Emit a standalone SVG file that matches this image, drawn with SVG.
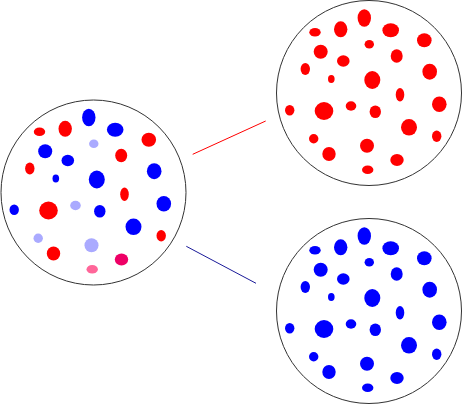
<svg xmlns="http://www.w3.org/2000/svg" width="463" height="405" viewBox="0 0 463 405">
<style>
.dish{fill:#fff;stroke:#333;stroke-width:1}
.r{fill:#ff0000}.b{fill:#0000ff}.lb{fill:#aaaaff}.m{fill:#ee0066}.p{fill:#ff6699}
</style>
<rect width="463" height="405" fill="#fff"/>
<g id="connectors">
<line x1="192.7" y1="154.3" x2="265.7" y2="121" stroke="#ff0000" stroke-width="1"/>
<line x1="186.3" y1="246.3" x2="256" y2="283.3" stroke="#1a1a99" stroke-width="1"/>
</g>
<g id="mixed" transform="translate(93.5,192.5)">
<circle class="dish" r="92.5"/>
<ellipse class="r" cx="-54" cy="-60.7" rx="5.7" ry="4.3"/>
<ellipse class="r" cx="-28.3" cy="-63.7" rx="6.7" ry="8"/>
<ellipse class="b" cx="-4.7" cy="-75" rx="6.7" ry="8.7"/>
<ellipse class="b" cx="21.7" cy="-62.7" rx="8.3" ry="7"/>
<ellipse class="r" cx="55.3" cy="-52.7" rx="7.3" ry="7"/>
<ellipse class="b" cx="-48.3" cy="-41.3" rx="7" ry="7"/>
<ellipse class="lb" cx="0.3" cy="-48.7" rx="4.7" ry="4.3"/>
<ellipse class="b" cx="-25.7" cy="-32" rx="6.3" ry="5.7"/>
<ellipse class="r" cx="27.7" cy="-37" rx="6" ry="6.7"/>
<ellipse class="r" cx="-63.7" cy="-24" rx="4.7" ry="6"/>
<ellipse class="b" cx="-37.7" cy="-14" rx="3.3" ry="4"/>
<ellipse class="b" cx="3.3" cy="-13" rx="8" ry="9"/>
<ellipse class="b" cx="60.7" cy="-21.3" rx="7.3" ry="8"/>
<ellipse class="r" cx="31" cy="1.7" rx="4.3" ry="6.7"/>
<ellipse class="b" cx="-79.3" cy="17.3" rx="4.7" ry="5.3"/>
<ellipse class="r" cx="-45" cy="18" rx="9.3" ry="9"/>
<ellipse class="lb" cx="-18" cy="13" rx="5.3" ry="4.7"/>
<ellipse class="b" cx="6.3" cy="18.7" rx="5.7" ry="6.3"/>
<ellipse class="b" cx="70.3" cy="11.3" rx="7.3" ry="7.7"/>
<ellipse class="b" cx="40" cy="34.3" rx="8" ry="8.3"/>
<ellipse class="lb" cx="-55.3" cy="45.7" rx="4.7" ry="4.7"/>
<ellipse class="r" cx="67.7" cy="43.3" rx="4.7" ry="5.7"/>
<ellipse class="r" cx="-40" cy="61" rx="6.7" ry="7"/>
<ellipse class="lb" cx="-2" cy="52.7" rx="7" ry="7"/>
<ellipse class="m" cx="28" cy="67" rx="6.7" ry="6"/>
<ellipse class="p" cx="-1.3" cy="76.7" rx="5.7" ry="4.3"/>
</g>
<g id="red" transform="translate(369,93)">
<circle class="dish" r="92.5"/>
<g class="r">
<ellipse cx="-54" cy="-60.7" rx="5.7" ry="4.3"/>
<ellipse cx="-28.3" cy="-63.7" rx="6.7" ry="8"/>
<ellipse cx="-4.7" cy="-75" rx="6.7" ry="8.7"/>
<ellipse cx="21.7" cy="-62.7" rx="8.3" ry="7"/>
<ellipse cx="55.3" cy="-52.7" rx="7.3" ry="7"/>
<ellipse cx="-48.3" cy="-41.3" rx="7" ry="7"/>
<ellipse cx="0.3" cy="-48.7" rx="4.7" ry="4.3"/>
<ellipse cx="-25.7" cy="-32" rx="6.3" ry="5.7"/>
<ellipse cx="27.7" cy="-37" rx="6" ry="6.7"/>
<ellipse cx="-63.7" cy="-24" rx="4.7" ry="6"/>
<ellipse cx="-37.7" cy="-14" rx="3.3" ry="4"/>
<ellipse cx="3.3" cy="-13" rx="8" ry="9"/>
<ellipse cx="60.7" cy="-21.3" rx="7.3" ry="8"/>
<ellipse cx="31" cy="1.7" rx="4.3" ry="6.7"/>
<ellipse cx="-79.3" cy="17.3" rx="4.7" ry="5.3"/>
<ellipse cx="-45" cy="18" rx="9.3" ry="9"/>
<ellipse cx="-18" cy="13" rx="5.3" ry="4.7"/>
<ellipse cx="6.3" cy="18.7" rx="5.7" ry="6.3"/>
<ellipse cx="70.3" cy="11.3" rx="7.3" ry="7.7"/>
<ellipse cx="40" cy="34.3" rx="8" ry="8.3"/>
<ellipse cx="-55.3" cy="45.7" rx="4.7" ry="4.7"/>
<ellipse cx="67.7" cy="43.3" rx="4.7" ry="5.7"/>
<ellipse cx="-40" cy="61" rx="6.7" ry="7"/>
<ellipse cx="-2" cy="52.7" rx="7" ry="7"/>
<ellipse cx="28" cy="67" rx="6.7" ry="6"/>
<ellipse cx="-1.3" cy="76.7" rx="5.7" ry="4.3"/>
</g>
</g>
<g id="blue" transform="translate(369,311)">
<circle class="dish" r="92.5"/>
<g class="b">
<ellipse cx="-54" cy="-60.7" rx="5.7" ry="4.3"/>
<ellipse cx="-28.3" cy="-63.7" rx="6.7" ry="8"/>
<ellipse cx="-4.7" cy="-75" rx="6.7" ry="8.7"/>
<ellipse cx="21.7" cy="-62.7" rx="8.3" ry="7"/>
<ellipse cx="55.3" cy="-52.7" rx="7.3" ry="7"/>
<ellipse cx="-48.3" cy="-41.3" rx="7" ry="7"/>
<ellipse cx="0.3" cy="-48.7" rx="4.7" ry="4.3"/>
<ellipse cx="-25.7" cy="-32" rx="6.3" ry="5.7"/>
<ellipse cx="27.7" cy="-37" rx="6" ry="6.7"/>
<ellipse cx="-63.7" cy="-24" rx="4.7" ry="6"/>
<ellipse cx="-37.7" cy="-14" rx="3.3" ry="4"/>
<ellipse cx="3.3" cy="-13" rx="8" ry="9"/>
<ellipse cx="60.7" cy="-21.3" rx="7.3" ry="8"/>
<ellipse cx="31" cy="1.7" rx="4.3" ry="6.7"/>
<ellipse cx="-79.3" cy="17.3" rx="4.7" ry="5.3"/>
<ellipse cx="-45" cy="18" rx="9.3" ry="9"/>
<ellipse cx="-18" cy="13" rx="5.3" ry="4.7"/>
<ellipse cx="6.3" cy="18.7" rx="5.7" ry="6.3"/>
<ellipse cx="70.3" cy="11.3" rx="7.3" ry="7.7"/>
<ellipse cx="40" cy="34.3" rx="8" ry="8.3"/>
<ellipse cx="-55.3" cy="45.7" rx="4.7" ry="4.7"/>
<ellipse cx="67.7" cy="43.3" rx="4.7" ry="5.7"/>
<ellipse cx="-40" cy="61" rx="6.7" ry="7"/>
<ellipse cx="-2" cy="52.7" rx="7" ry="7"/>
<ellipse cx="28" cy="67" rx="6.7" ry="6"/>
<ellipse cx="-1.3" cy="76.7" rx="5.7" ry="4.3"/>
</g>
</g>
</svg>
